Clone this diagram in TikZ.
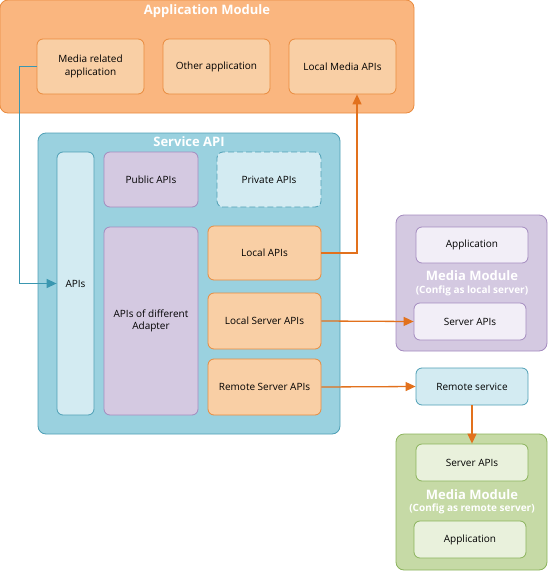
\documentclass[tikz,border=0pt]{standalone}
\usepackage{fontspec}
\setmainfont{Open Sans}
\usetikzlibrary{arrows.meta}

\definecolor{orgdark}{HTML}{FAB67F}
\definecolor{orgline}{HTML}{E98B3E}
\definecolor{orglight}{HTML}{F9CFA5}
\definecolor{tealdark}{HTML}{9AD1DF}
\definecolor{tealline}{HTML}{4E9FB5}
\definecolor{teallight}{HTML}{D3EBF2}
\definecolor{purpdark}{HTML}{D4C9E1}
\definecolor{purpline}{HTML}{A48BBF}
\definecolor{purplight}{HTML}{F2EEF7}
\definecolor{grndark}{HTML}{C6DAA6}
\definecolor{grnline}{HTML}{8BB35C}
\definecolor{grnlight}{HTML}{E9F1DC}
\definecolor{arroworg}{HTML}{E2711D}
\definecolor{arrowteal}{HTML}{3A97B0}

\tikzset{
  box/.style={rounded corners=6pt, line width=0.8pt, inner sep=0pt, align=center, font=\fontsize{10}{12.5}\selectfont},
  orgbox/.style={box, draw=orgline, fill=orglight},
  orgmodule/.style={box, draw=orgline, fill=orgdark, rounded corners=8pt},
  tealbox/.style={box, draw=tealline, fill=teallight},
  tealmodule/.style={box, draw=tealline, fill=tealdark, rounded corners=8pt},
  purpbox/.style={box, draw=purpline, fill=purpdark},
  purpinner/.style={box, draw=purpline, fill=purplight},
  purpmodule/.style={box, draw=purpline, fill=purpdark, rounded corners=8pt},
  grninner/.style={box, draw=grnline, fill=grnlight},
  grnmodule/.style={box, draw=grnline, fill=grndark, rounded corners=8pt},
  title/.style={text=white, font=\bfseries\fontsize{13}{15}\selectfont, inner sep=0pt},
  subtitle/.style={text=white, font=\bfseries\fontsize{10}{12}\selectfont, inner sep=0pt},
  orgarrow/.style={draw=arroworg, line width=1.3pt, -{Triangle[length=10pt,width=9pt]}},
  tealarrow/.style={draw=arrowteal, line width=1.3pt, -{Triangle[length=10pt,width=9pt]}}
}

\begin{document}
\begin{tikzpicture}[x=1pt,y=-1pt]
\useasboundingbox (0,0) rectangle (548,571);

% application module
\node[orgmodule, minimum width=414pt, minimum height=113pt] (appmod) at (207,56.5) {};
\node[title] (apptitle) at (207,11) {Application Module};
\node[orgbox, minimum width=107pt, minimum height=55pt] (mediaapp) at (90.5,66.5) {Media related\\application};
\node[orgbox, minimum width=107pt, minimum height=55pt] (otherapp) at (216.5,66.5) {Other application};
\node[orgbox, minimum width=107pt, minimum height=55pt] (localmedia) at (342.5,66.5) {Local Media APIs};

% service api
\node[tealmodule, minimum width=302pt, minimum height=301pt] (service) at (189,283.5) {};
\node[title] (servtitle) at (189,142) {Service API};
\node[tealbox, minimum width=37pt, minimum height=263pt] (apis) at (75.5,283.5) {APIs};
\node[purpbox, minimum width=94pt, minimum height=55pt] (public) at (151,179.5) {Public APIs};
\node[tealbox, dash pattern=on 6pt off 3pt, minimum width=104pt, minimum height=55pt] (private) at (269,179.5) {Private APIs};
\node[purpbox, minimum width=94pt, minimum height=188pt] (adapter) at (151,321) {APIs of different\\Adapter};
\node[orgbox, minimum width=113pt, minimum height=54pt] (localapis) at (264.5,253) {Local APIs};
\node[orgbox, minimum width=113pt, minimum height=56pt] (localsrv) at (264.5,321) {Local Server APIs};
\node[orgbox, minimum width=113pt, minimum height=56pt] (remotesrv) at (264.5,387) {Remote Server APIs};

% media module, local server
\node[purpmodule, minimum width=151pt, minimum height=136pt] (locmod) at (471.5,283) {};
\node[purpinner, minimum width=112pt, minimum height=36pt] (locapp) at (472,245) {Application};
\node[title] (loctitle) at (472,276) {Media Module};
\node[subtitle] (locsub) at (472,291) {(Config as local server)};
\node[purpinner, minimum width=112pt, minimum height=37pt] (locserver) at (470,321.5) {Server APIs};

% remote service
\node[tealbox, minimum width=112pt, minimum height=37pt] (remote) at (472,386.5) {Remote service};

% media module, remote server
\node[grnmodule, minimum width=151pt, minimum height=136pt] (remmod) at (471.5,502) {};
\node[grninner, minimum width=112pt, minimum height=37pt] (remserver) at (472,462.5) {Server APIs};
\node[title] (remtitle) at (472,495) {Media Module};
\node[subtitle] (remsub) at (472,509) {(Config as remote server)};
\node[grninner, minimum width=112pt, minimum height=37pt] (remapp) at (470,539.5) {Application};

% connectors
\draw[tealarrow] (mediaapp.west) -- ++(-17,0) |- (apis.west);
\draw[orgarrow] (localapis.east) -| ([xshift=14.5pt]localmedia.south);
\draw[orgarrow] (localsrv.east) -- (locserver.west);
\draw[orgarrow] (remotesrv.east) -- (remote.west);
\draw[orgarrow] (remote.south) -- (remserver.north);
\end{tikzpicture}
\end{document}
